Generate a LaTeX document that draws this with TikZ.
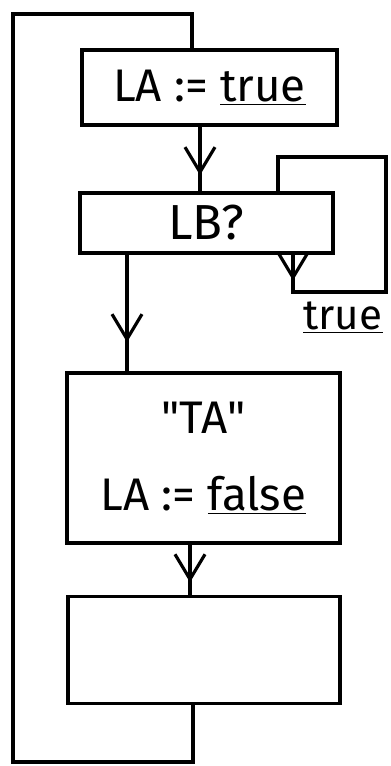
\documentclass[tikz,border=0pt]{standalone}
\usepackage{fontspec}
\setsansfont{Fira Sans}
\usetikzlibrary{arrows.meta, decorations.markings}

\begin{document}
\begin{tikzpicture}[x=0.02cm, y=-0.02cm, line width=1.8pt,
  blk/.style={draw, rectangle, line width=1.8pt, align=center, font=\sffamily\fontsize{26}{44}\selectfont},
  flow/.style={postaction={decorate}, decoration={markings, mark=at position #1 with {\arrow{Straight Barb[length=0.5cm, width=0.6cm, line width=1.8pt]}}}},
  flow/.default=0.75]
\useasboundingbox (0,0) rectangle (390,766);
\node[blk, minimum width=5.1cm, minimum height=1.5cm] (A) at (209.5,87.5) {LA := \underline{true}};
\node[blk, minimum width=5.06cm, minimum height=1.2cm, font=\sffamily\fontsize{28}{34}\selectfont] (B) at (206.5,223) {LB?};
\node[blk, minimum width=5.46cm, minimum height=3.4cm] (C) at (203.5,458) {\textquotedbl TA\textquotedbl\\LA := \underline{false}};
\node[blk, minimum width=5.44cm, minimum height=2.14cm] (D) at (204,650) {};
\node[font=\sffamily\fontsize{24}{28}\selectfont] (T) at (343,318) {\underline{true}};
\draw[flow] (A.south -| 200,0) -- (B.north -| 200,0);
\draw[flow] (B.south -| 127,0) -- (C.north -| 127,0);
\draw[flow] (C.south -| 190,0) -- (D.north -| 190,0);
\draw[flow=0.52cm] (B.south -| 293,0) -- (293,292) -| (386,157) -| (B.north -| 278,0);
\draw (D.south -| 193,0) -- (193,762) -| (13,14) -| (A.north -| 192,0);
\end{tikzpicture}
\end{document}
